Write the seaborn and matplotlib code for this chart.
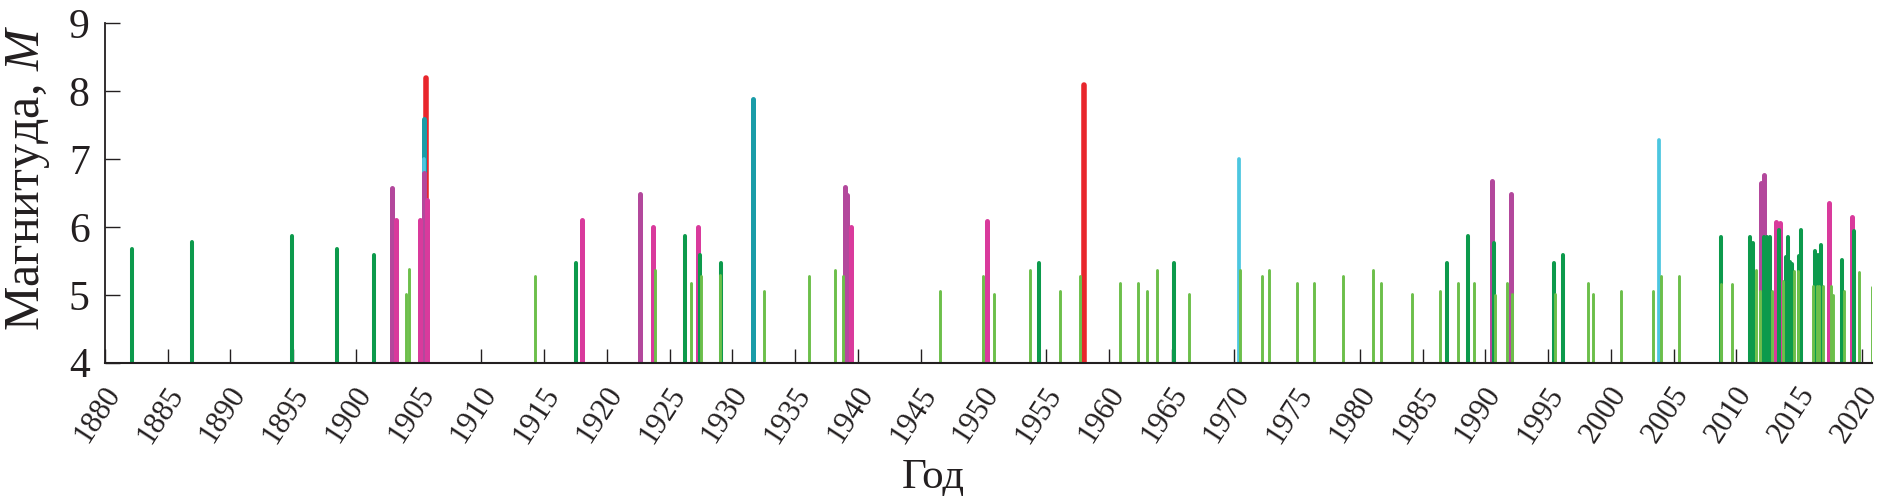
import numpy as np
import pandas as pd
import matplotlib
matplotlib.use("Agg")
import matplotlib.pyplot as plt
import matplotlib.transforms as mtransforms
import seaborn as sns

# годы и магнитуды событий
years = [1882.14, 1886.93, 1894.87, 1898.45, 1901.44, 1902.85, 1903.2, 1904.0, 1904.2,
         1905.1, 1905.4, 1905.45, 1905.45, 1905.62, 1905.7, 1914.27, 1917.57, 1918.03,
         1922.67, 1923.7, 1923.83, 1926.24, 1926.67, 1927.26, 1927.43, 1927.46, 1928.98,
         1929.08, 1931.62, 1932.51, 1936.1, 1938.18, 1938.78, 1938.94, 1939.11, 1939.41,
         1946.53, 1949.93, 1950.26, 1950.86, 1953.7, 1954.42, 1956.07, 1957.72, 1957.99,
         1960.86, 1962.34, 1963.07, 1963.83, 1965.15, 1966.34, 1970.4, 1970.45,
         1972.18, 1972.79, 1975.0, 1976.35, 1978.62, 1981.03, 1981.7, 1984.13, 1986.35,
         1986.96, 1987.85, 1988.59, 1989.07, 1990.51, 1990.67, 1990.75, 1991.73, 1992.02,
         1992.1, 1995.45, 1995.55, 1996.22, 1998.14, 1998.59, 2000.8, 2003.33, 2003.81,
         2003.97, 2005.45, 2008.75, 2008.75, 2009.66, 2011.11, 2011.3, 2011.53, 2011.9,
         2011.96, 2012.17, 2012.2, 2012.43, 2012.7, 2012.83, 2013.17, 2013.44, 2013.36,
         2013.7, 2013.92, 2014.1, 2014.29, 2014.44, 2014.55, 2014.87, 2014.97, 2015.13,
         2016.1, 2016.27, 2016.4, 2016.46, 2016.6, 2016.72, 2016.9, 2017.38, 2017.5,
         2017.67, 2018.41, 2018.6, 2019.18, 2019.37, 2019.76, 2020.82]
mags = [5.67, 5.78, 5.87, 5.67, 5.58, 6.58, 6.1, 5.01, 5.38,
        6.1, 6.79, 7.0, 7.59, 8.19, 6.4, 5.28, 5.47, 6.1,
        6.48, 6.0, 5.37, 5.87, 5.17, 6.0, 5.58, 5.28, 5.29,
        5.47, 7.89, 5.06, 5.28, 5.37, 5.28, 6.59, 6.47, 6.0,
        5.06, 5.28, 6.09, 5.01, 5.37, 5.47, 5.06, 5.28, 8.09,
        5.17, 5.17, 5.06, 5.37, 5.47, 5.01, 7.0, 5.37,
        5.28, 5.37, 5.17, 5.17, 5.28, 5.37, 5.17, 5.01, 5.06,
        5.47, 5.17, 5.87, 5.17, 6.67, 5.77, 5.0, 5.17, 6.48,
        5.01, 5.47, 5.01, 5.58, 5.17, 5.01, 5.06, 5.06, 7.28,
        5.28, 5.28, 5.85, 5.16, 5.16, 5.85, 5.77, 5.36, 5.06,
        6.65, 6.76, 5.85, 5.85, 5.85, 5.06, 6.08, 6.06, 5.95,
        5.2, 5.55, 5.85, 5.48, 5.46, 5.35, 5.35, 5.57, 5.95,
        5.13, 5.64, 5.13, 5.59, 5.13, 5.74, 5.13, 6.36, 5.13,
        5.0, 5.52, 5.06, 6.14, 5.94, 5.33, 5.12]

class_bins = [4.0, 5.4, 6.0, 6.42, 7.0, 7.5, 8.0, 9.0]
class_names = ["a", "b", "c", "d", "e", "f", "g"]
class_colors = ["#6cbf4a", "#0c9a4c", "#d93a9c", "#b3489c", "#4cc6e0", "#1a9ca8", "#e8262c"]
class_widths = [2.1, 2.9, 3.6, 3.6, 2.7, 3.6, 4.0]

df = pd.DataFrame({"year": years, "mag": mags})
df["cls"] = pd.cut(df["mag"], bins=class_bins, labels=class_names, right=False)
df = df.sort_values("mag", ascending=False)

sns.set_theme(style="ticks")
plt.rcParams["font.family"] = ["Liberation Serif", "DejaVu Serif"]
plt.rcParams["mathtext.fontset"] = "custom"
plt.rcParams["mathtext.it"] = "Liberation Serif:italic"
plt.rcParams["mathtext.rm"] = "Liberation Serif"

ink = "#231f20"
fig = plt.figure(figsize=(18.81, 5.0), dpi=100)
ax = fig.add_axes([0.0558, 0.2746, 0.9394, 0.6788])

pal = dict(zip(class_names, class_colors))
lw = dict(zip(class_names, class_widths))
# большие магнитуды рисуются первыми, меньшие поверх
for _, r in df.iterrows():
    ax.vlines(r["year"], 4, r["mag"], colors=pal[r["cls"]], linewidth=lw[r["cls"]],
              capstyle="round", zorder=2)

ax.set_xlim(1880, 2020.8)
ax.set_ylim(4, 9)
ax.set_xticks(np.arange(1880, 2021, 5))
ax.set_yticks([4, 5, 6, 7, 8, 9])
ax.tick_params(axis="both", direction="in", color=ink, width=1.0, labelcolor=ink)
ax.tick_params(axis="x", length=9.8, pad=13.5, labelsize=22)
ax.tick_params(axis="y", length=11, pad=11, labelsize=30)
shift = mtransforms.ScaledTranslation(-0.03, 0, fig.dpi_scale_trans)
for lab in ax.get_xticklabels():
    lab.set_rotation(57)
    lab.set_ha("right")
    lab.set_va("top")
    lab.set_rotation_mode("anchor")
    lab.set_transform(lab.get_transform() + shift)

sns.despine(ax=ax)
ax.spines["left"].set_linewidth(1.3)
ax.spines["bottom"].set_linewidth(1.5)
ax.spines["left"].set_color(ink)
ax.spines["bottom"].set_color(ink)

ax.set_xlabel("Год", fontsize=31, color=ink)
ax.xaxis.set_label_coords(0.469, -0.369)
ax.xaxis.label.set_va("baseline")
ax.set_ylabel("Магнитуда, $\\mathit{M}$", fontsize=36, color=ink)
ax.yaxis.set_label_coords(-0.0436, 0.545)
ax.yaxis.label.set_va("center")

fig.savefig("out.png", dpi=100)
